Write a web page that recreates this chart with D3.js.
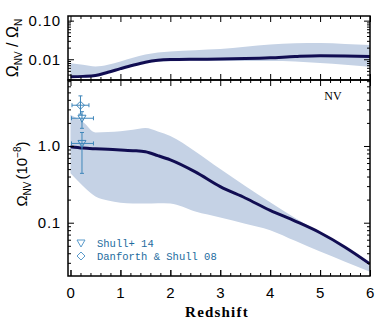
<!DOCTYPE html>
<html>
<head>
<meta charset="utf-8">
<script src="https://cdn.jsdelivr.net/npm/d3@7"></script>
<style>
  body { margin: 0; background: #fff; }
  svg { display: block; }
  .tick text { font-family: "Liberation Sans", Arial, sans-serif; font-size: 15px; letter-spacing: 0.8px; fill: #000; }
  .tick line { stroke: #000; stroke-width: 1; }
</style>
</head>
<body>
<div id="chart"></div>
<script>
// redshift grid used by every model curve
var redshift = [0, 0.25, 0.5, 0.75, 1, 1.25, 1.5, 1.75, 2, 2.5, 3, 3.5, 4, 4.5, 5, 5.5, 6];

// top panel: Omega_NV / Omega_N
var ratioMid = [0.0035, 0.0036, 0.0038, 0.0046, 0.0057, 0.0070, 0.0084, 0.0094, 0.0098, 0.0100, 0.0101, 0.0104, 0.0109, 0.0118, 0.0124, 0.0122, 0.0117];
var ratioHi  = [0.0079, 0.0072, 0.0065, 0.0072, 0.0088, 0.0110, 0.0132, 0.0150, 0.0159, 0.0172, 0.0183, 0.0210, 0.0240, 0.0260, 0.0262, 0.0250, 0.0235];
var ratioLo  = [0.0033, 0.0033, 0.0035, 0.0043, 0.0053, 0.0066, 0.0078, 0.0086, 0.0089, 0.0090, 0.0090, 0.0090, 0.0090, 0.0088, 0.0080, 0.0072, 0.0064];

// bottom panel: Omega_NV in units of 1e-8
var omegaMid = [0.98, 0.94, 0.92, 0.905, 0.89, 0.87, 0.84, 0.75, 0.66, 0.46, 0.295, 0.21, 0.145, 0.105, 0.074, 0.048, 0.029];
var omegaHi  = [2.55, 2.05, 1.50, 1.52, 1.56, 1.63, 1.72, 1.55, 1.35, 0.85, 0.50, 0.30, 0.185, 0.115, 0.074, 0.046, 0.027];
var omegaLo  = [0.44, 0.30, 0.22, 0.195, 0.182, 0.178, 0.178, 0.18, 0.178, 0.14, 0.117, 0.097, 0.080, 0.058, 0.042, 0.031, 0.023];

// observations
var shullZ = [0.23, 0.23], shullZlo = [0.02, 0.02], shullZhi = [0.46, 0.46];
var shullV = [2.3, 1.08], shullLo = [1.7, 0.44], shullHi = [2.8, 1.5];
var danfZ = [0.2], danfZlo = [0.03], danfZhi = [0.37];
var danfV = [3.4], danfLo = [2.6], danfHi = [4.5];

var legendLabels = ["Shull+ 14", "Danforth & Shull 08"];
var xTicks = [0, 1, 2, 3, 4, 5, 6];

var width = 390, height = 325;
var left = 68, right = 370, topY0 = 16, topY1 = 80, botY0 = 80, botY1 = 276;

var bandColor = "#c5d2e5", lineColor = "#110d52", obsColor = "#3f86ba", textColor = "#1d6b9e";

var svg = d3.select("#chart").append("svg")
  .attr("width", width).attr("height", height);

var x = d3.scaleLinear().domain([-0.05, 6]).range([left, right]);
var yTop = d3.scaleLog().domain([0.0029, 0.132]).range([topY1, topY0]);
var yBot = d3.scaleLog().domain([0.0202, 7.25]).range([botY1, botY0]);

var xMinor = d3.range(0, 6.01, 0.2).filter(function(d) { return Math.abs(d - Math.round(d)) > 0.01; });

function logMinor(lo, hi) {
  var out = [];
  for (var p = -4; p <= 2; p++) {
    for (var m = 2; m <= 9; m++) {
      var v = m * Math.pow(10, p);
      if (v > lo && v < hi) out.push(v);
    }
  }
  return out;
}

svg.append("defs").selectAll("clipPath")
  .data([["clipTop", topY0, topY1], ["clipBot", botY0, botY1]])
  .enter().append("clipPath").attr("id", function(d) { return d[0]; })
  .append("rect")
  .attr("x", left).attr("y", function(d) { return d[1]; })
  .attr("width", right - left).attr("height", function(d) { return d[2] - d[1]; });

function drawModel(y, mid, lo, hi, clip) {
  var g = svg.append("g").attr("clip-path", "url(#" + clip + ")");
  var area = d3.area()
    .x(function(d, i) { return x(redshift[i]); })
    .y0(function(d, i) { return y(lo[i]); })
    .y1(function(d, i) { return y(hi[i]); })
    .curve(d3.curveMonotoneX);
  g.append("path").datum(mid).attr("d", area).attr("fill", bandColor);
  var line = d3.line()
    .x(function(d, i) { return x(redshift[i]); })
    .y(function(d) { return y(d); })
    .curve(d3.curveMonotoneX);
  g.append("path").datum(mid).attr("d", line)
    .attr("fill", "none").attr("stroke", lineColor).attr("stroke-width", 3);
}

drawModel(yTop, ratioMid, ratioLo, ratioHi, "clipTop");
drawModel(yBot, omegaMid, omegaLo, omegaHi, "clipBot");

// axes helper: inward ticks, no domain line
function ticks(axis, pos, values, size, fmt, pad) {
  var g = svg.append("g").attr("transform", pos)
    .call(axis.tickValues(values).tickSize(size).tickPadding(pad || 3).tickFormat(fmt || ""));
  g.select(".domain").remove();
  return g;
}

// x ticks
[[topY0, d3.axisTop], [topY1, d3.axisBottom], [botY0, d3.axisTop], [botY1, d3.axisBottom]].forEach(function(r) {
  ticks(r[1](x), "translate(0," + r[0] + ")", xTicks, -6);
  ticks(r[1](x), "translate(0," + r[0] + ")", xMinor, -3);
});
ticks(d3.axisBottom(x), "translate(0," + botY1 + ")", xTicks, -6, d3.format("d"), 11);

// y ticks
var topMinor = logMinor(0.0029, 0.132), botMinor = logMinor(0.0202, 7.25);
ticks(d3.axisLeft(yTop), "translate(" + left + ",0)", [0.01, 0.1], -6, function(d) { return d === 0.1 ? "0.10" : "0.01"; }, 7);
ticks(d3.axisLeft(yTop), "translate(" + left + ",0)", topMinor, -3);
ticks(d3.axisLeft(yTop), "translate(" + right + ",0)", [0.01, 0.1], 6);
ticks(d3.axisLeft(yTop), "translate(" + right + ",0)", topMinor, 3);
ticks(d3.axisLeft(yBot), "translate(" + left + ",0)", [0.1, 1], -6, function(d) { return d === 1 ? "1.0" : "0.1"; }, 7);
ticks(d3.axisLeft(yBot), "translate(" + left + ",0)", botMinor, -3);
ticks(d3.axisLeft(yBot), "translate(" + right + ",0)", [0.1, 1], 6);
ticks(d3.axisLeft(yBot), "translate(" + right + ",0)", botMinor, 3);

// frames
[[topY0, topY1], [botY0, botY1]].forEach(function(p) {
  svg.append("rect").attr("x", left).attr("y", p[0])
    .attr("width", right - left).attr("height", p[1] - p[0])
    .attr("fill", "none").attr("stroke", "#000").attr("stroke-width", 1.5);
});

// observations
var obs = svg.append("g").attr("stroke", obsColor).attr("fill", "none").attr("stroke-width", 1);
function errorBars(zs, zlo, zhi, vs, lo, hi) {
  zs.forEach(function(z, i) {
    var cx = x(z), cy = yBot(vs[i]);
    obs.append("line").attr("x1", x(zlo[i])).attr("x2", x(zhi[i])).attr("y1", cy).attr("y2", cy);
    obs.append("line").attr("x1", x(zlo[i])).attr("x2", x(zlo[i])).attr("y1", cy - 2).attr("y2", cy + 2);
    obs.append("line").attr("x1", x(zhi[i])).attr("x2", x(zhi[i])).attr("y1", cy - 2).attr("y2", cy + 2);
    obs.append("line").attr("x1", cx).attr("x2", cx).attr("y1", yBot(lo[i])).attr("y2", yBot(hi[i]));
    obs.append("line").attr("x1", cx - 2).attr("x2", cx + 2).attr("y1", yBot(lo[i])).attr("y2", yBot(lo[i]));
    obs.append("line").attr("x1", cx - 2).attr("x2", cx + 2).attr("y1", yBot(hi[i])).attr("y2", yBot(hi[i]));
  });
}
errorBars(shullZ, shullZlo, shullZhi, shullV, shullLo, shullHi);
errorBars(danfZ, danfZlo, danfZhi, danfV, danfLo, danfHi);

var triangle = "M-4,-3L4,-3L0,4Z", diamond = "M0,-4L4,0L0,4L-4,0Z";
shullZ.forEach(function(z, i) {
  obs.append("path").attr("d", triangle).attr("transform", "translate(" + x(z) + "," + yBot(shullV[i]) + ")");
});
danfZ.forEach(function(z, i) {
  obs.append("path").attr("d", diamond).attr("transform", "translate(" + x(z) + "," + yBot(danfV[i]) + ")");
});

// legend
var leg = svg.append("g").attr("transform", "translate(81,243)");
[triangle, diamond].forEach(function(sym, i) {
  leg.append("path").attr("d", sym).attr("transform", "translate(0," + (i * 13) + ")")
    .attr("fill", "none").attr("stroke", "#5b9bcb").attr("stroke-width", 1);
  leg.append("text").attr("x", 16).attr("y", i * 13 + 4)
    .attr("font-family", "Liberation Mono, Courier New, monospace").attr("font-size", 10.5)
    .attr("fill", textColor).text(legendLabels[i]);
});

// labels
svg.append("text").attr("x", 333).attr("y", 100).attr("text-anchor", "middle")
  .attr("font-family", "Liberation Serif, Times New Roman, serif").attr("font-size", 12)
  .text("NV");

svg.append("text").attr("x", (left + right) / 2 - 2).attr("y", 317).attr("text-anchor", "middle")
  .attr("font-family", "Liberation Serif, Times New Roman, serif").attr("font-size", 15)
  .attr("font-weight", "bold").attr("letter-spacing", 1.2)
  .text("Redshift");

var yl1 = svg.append("text").attr("transform", "translate(18,48) rotate(-90)")
  .attr("text-anchor", "middle").attr("font-family", "Liberation Sans, Arial, sans-serif").attr("font-size", 16);
yl1.append("tspan").text("\u03A9");
yl1.append("tspan").attr("font-size", 10).attr("dy", 4).text("NV");
yl1.append("tspan").attr("dy", -4).text(" / \u03A9");
yl1.append("tspan").attr("font-size", 10).attr("dy", 4).text("N");

var yl2 = svg.append("text").attr("transform", "translate(27,174) rotate(-90)")
  .attr("text-anchor", "middle").attr("font-family", "Liberation Sans, Arial, sans-serif").attr("font-size", 15);
yl2.append("tspan").text("\u03A9");
yl2.append("tspan").attr("font-size", 10).attr("dy", 4).text("NV");
yl2.append("tspan").attr("dy", -4).attr("dx", 2).text("(10");
yl2.append("tspan").attr("font-size", 10).attr("dy", -6).text("\u22128");
yl2.append("tspan").attr("dy", 6).text(")");
</script>
</body>
</html>
